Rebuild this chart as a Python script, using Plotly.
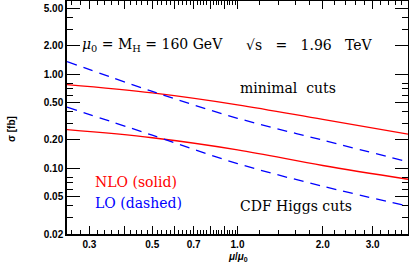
import math
import plotly.graph_objects as go

# scale factor mu/mu0
mu = [0.25, 0.5, 1.0, 2.0, 4.0]
# cross sections [fb]
nlo_minimal = [0.774, 0.632, 0.472, 0.33, 0.231]
lo_minimal = [1.36, 0.657, 0.340, 0.199, 0.117]
nlo_cdf = [0.257, 0.211, 0.157, 0.107, 0.0764]
lo_cdf = [0.446, 0.225, 0.112, 0.0644, 0.0396]

x_major = [0.3, 0.4, 0.5, 0.6, 0.7, 0.8, 0.9, 1.0, 2.0, 3.0]
x_major_text = ["0.3", "", "0.5", "", "0.7", "", "", "1.0", "2.0", "3.0"]
x_minor = [round(0.26 + 0.02 * i, 2) for i in range(37)] + [round(1.2 + 0.2 * i, 1) for i in range(14)]
x_minor = [v for v in x_minor if v not in x_major]
y_major = [5, 2, 1, 0.5, 0.2, 0.1, 0.05, 0.02]
y_major_text = ["5.00", "2.00", "1.00", "0.50", "0.20", "0.10", "0.05", "0.02"]
y_minor = [3, 4, 0.8, 0.7, 0.6, 0.3, 0.4, 0.08, 0.07, 0.06, 0.03, 0.04]

RED = "#ff0000"
BLUE = "#0000ff"

fig = go.Figure()
for vals, col, dash in [(nlo_minimal, RED, "solid"), (lo_minimal, BLUE, "10px,7px"),
                        (nlo_cdf, RED, "solid"), (lo_cdf, BLUE, "10px,7px")]:
    fig.add_trace(go.Scatter(x=mu, y=vals, mode="lines", line_shape="spline",
                             line=dict(color=col, width=1.3, dash=dash), showlegend=False))

tickfont = dict(family="Liberation Sans", size=10, color="black", weight="bold")
fig.update_xaxes(type="log", range=[math.log10(0.25), math.log10(4)], tickmode="array",
                 tickvals=x_major, ticktext=x_major_text, ticks="inside", ticklen=8,
                 tickwidth=1.2, tickcolor="black", showline=True, linecolor="black",
                 linewidth=1.5, mirror="ticks", showgrid=False, zeroline=False,
                 tickfont=tickfont, automargin=False,
                 minor=dict(tickvals=x_minor, ticks="inside", ticklen=4,
                            tickcolor="black", tickwidth=1, showgrid=False))
fig.update_yaxes(type="log", range=[math.log10(0.02), math.log10(6)], tickmode="array",
                 tickvals=y_major, ticktext=y_major_text, ticks="inside", ticklen=13,
                 tickwidth=1.2, tickcolor="black", showline=True, linecolor="black",
                 linewidth=1.5, mirror="ticks", showgrid=False, zeroline=False,
                 tickfont=tickfont, automargin=False,
                 minor=dict(tickvals=y_minor, ticks="inside", ticklen=6,
                            tickcolor="black", tickwidth=1, showgrid=False))

serif = "DejaVu Serif"
sp = "\u00a0"
ann = [
    ("<i>μ</i><sub>0</sub> = M<sub>H</sub> = 160 GeV", 0.038, 0.811, "black"),
    ("\u221as" + sp * 3 + "=" + sp * 3 + "1.96" + sp * 3 + "TeV", 0.52, 0.811, "black"),
    ("minimal" + sp * 2 + "cuts", 0.5, 0.627, "black"),
    ("NLO (solid)", 0.076, 0.223, RED),
    ("LO (dashed)", 0.076, 0.133, BLUE),
    ("CDF Higgs cuts", 0.5, 0.12, "black"),
]
for text, x, y, col in ann:
    fig.add_annotation(text=text, x=x, y=y, xref="paper", yref="paper",
                       xanchor="left", yanchor="middle", showarrow=False, align="left",
                       font=dict(family=serif, size=14, color=col))

fig.add_annotation(text="<i>μ</i>/<i>μ</i><sub>0</sub>", x=0.5, y=-0.099, xref="paper", yref="paper",
                   xanchor="center", yanchor="middle", showarrow=False,
                   font=dict(family="Liberation Sans", size=10, color="black", weight="bold"))
fig.add_annotation(text="σ [fb]", x=-0.165, y=0.45, xref="paper", yref="paper",
                   xanchor="center", yanchor="middle", showarrow=False, textangle=-90,
                   font=dict(family="Liberation Sans", size=10, color="black", weight="bold"))

fig.update_layout(width=409, height=265, margin=dict(l=67, r=1, t=1, b=31, autoexpand=False),
                  plot_bgcolor="white", paper_bgcolor="white")
fig.write_html("out.html", config={"displayModeBar": False},
               post_script="document.body.style.margin='0';document.body.style.overflow='hidden';")
